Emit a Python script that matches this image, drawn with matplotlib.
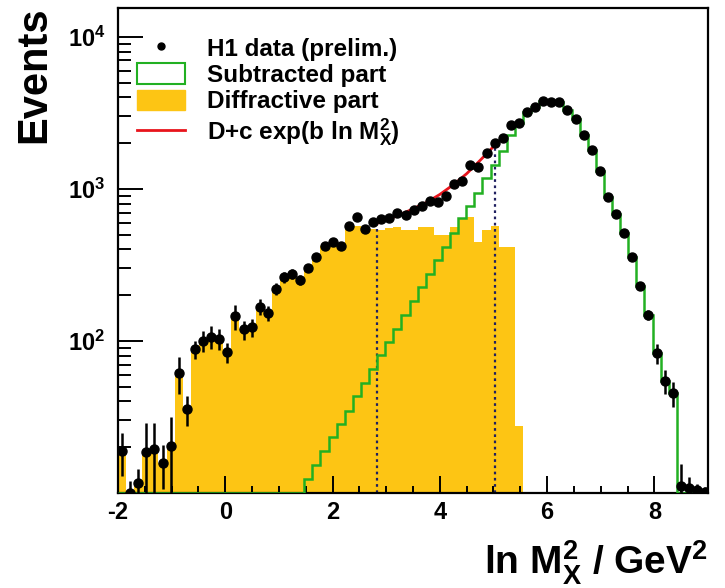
import numpy as np
import matplotlib
matplotlib.use('Agg')
import matplotlib.pyplot as plt
from matplotlib.lines import Line2D
from matplotlib.patches import Patch
from matplotlib.ticker import FixedLocator, LogLocator, MultipleLocator, NullFormatter

# =========================================================
# FONTS
# =========================================================
plt.rcParams['font.family'] = ['Liberation Sans', 'DejaVu Sans']
plt.rcParams['font.weight'] = 'bold'
plt.rcParams['mathtext.fontset'] = 'custom'
plt.rcParams['mathtext.rm'] = 'Liberation Sans:bold'
plt.rcParams['mathtext.it'] = 'Liberation Sans:bold'
plt.rcParams['mathtext.bf'] = 'Liberation Sans:bold'
plt.rcParams['mathtext.default'] = 'rm'

# =========================================================
# DATA
# =========================================================
x_first_edge = -2.0
bin_width = 0.151

# H1 data (prelim.), one value per bin
data_counts = [
    19, 10, 11.7, 18.7, 19.5, 15.7, 20.5, 62, 35.6, 88,
    100, 107, 103.5, 84.6, 145, 119, 123, 168, 153, 220,
    263, 277, 253, 302, 359, 422, 449, 422, 571, 657,
    543, 609, 631, 641, 691, 675, 727, 771, 836, 824,
    897, 1086, 1130, 1431, 1396, 1722, 2003, 2173, 2615, 2709,
    3196, 3446, 3772, 3755, 3755, 3313, 2893, 2249, 1814, 1314,
    888, 681, 512, 359, 229, 149, 83, 54.7, 45.4, 11.1,
    10.8, 10.4, 10.2,
]
data_errors = [
    6, 2, 2.6, 10, 9.5, 5, 11, 17, 8, 12,
    16, 18, 16, 13, 27, 17, 17, 20, 17, 20,
    21, 22, 20, 18, 21, 25, 27, 25, 34, 39,
    33, 36, 25, 26, 28, 27, 29, 31, 33, 33,
    36, 43, 45, 57, 56, 69, 50, 54, 65, 68,
    80, 86, 94, 94, 94, 83, 72, 56, 45, 33,
    27, 24, 20, 16, 12, 12, 12, 10, 8.6, 4.5,
    2, 1, 0.8,
]

# Subtracted part (green open histogram)
subtracted = [
    0, 0, 0, 0, 0, 0, 0, 0, 0, 0,
    0, 0, 0, 0, 0, 0, 0, 0, 0, 0,
    0, 0, 0, 12.4, 15.3, 19.0, 23.3, 28.4, 34.7, 43.2,
    53.3, 65.2, 80.5, 98.5, 120, 149, 182, 226, 277, 342,
    418, 512, 641, 771, 942, 1172, 1431, 1780, 2250, 2709,
    3196, 3446, 3772, 3755, 3755, 3313, 2893, 2249, 1814, 1314,
    888, 681, 512, 359, 229, 149, 83, 54.7, 45.4, 0,
    0, 0, 0,
]

# Diffractive part (filled yellow histogram)
diffractive = [
    19, 0, 11.7, 18.7, 19.5, 15.7, 20.5, 62, 35.6, 88,
    100, 107, 103.5, 84.6, 145, 119, 123, 168, 153, 220,
    263, 277, 253, 302, 359, 422, 449, 422, 571, 571,
    543, 543, 537, 551, 565, 537, 537, 560, 560, 499,
    499, 565, 641, 657, 451, 537, 571, 418, 418, 27.7,
    0, 0, 0, 0, 0, 0, 0, 0, 0, 0,
    0, 0, 0, 0, 0, 0, 0, 0, 0, 0,
    0, 0, 0,
]

# Fit D+c exp(b ln M_X^2)
fit_x = [2.82, 3.0, 3.25, 3.5, 3.75, 4.0, 4.25, 4.5, 4.75, 5.02]
fit_y = [592, 625, 675, 740, 815, 920, 1065, 1260, 1540, 1930]

# Dotted lines marking the fit range
cut_x = [2.82, 5.02]
cut_top = [592, 1930]

y_min, y_max = 10, 15500
x_min, x_max = -2, 9

y_major = [1e2, 1e3, 1e4]
y_major_labels = [r'$10^{2}$', r'$10^{3}$', r'$10^{4}$']
x_major = [-2, 0, 2, 4, 6, 8]

YELLOW = '#FDC514'
GREEN = '#22B022'
RED = '#E8141C'
NAVY = '#202060'

# =========================================================
# BINNING
# =========================================================
n_bins = len(data_counts)
edges = x_first_edge + bin_width * np.arange(n_bins + 1)
centers = 0.5 * (edges[:-1] + edges[1:])

data_counts = np.array(data_counts, dtype=float)
data_errors = np.array(data_errors, dtype=float)
subtracted = np.array(subtracted, dtype=float)
diffractive = np.array(diffractive, dtype=float)

# =========================================================
# FIGURE
# =========================================================
fig = plt.figure(figsize=(7.25, 5.88), dpi=100)
ax = fig.add_axes([118 / 725, 1 - 493 / 588, 590 / 725, 485 / 588])
ax.set_yscale('log')

# diffractive part
ax.stairs(np.where(diffractive > 0, diffractive, 1.0), edges, baseline=1.0,
          fill=True, color=YELLOW, lw=0, zorder=1)

# fit range lines
for cx, ct in zip(cut_x, cut_top):
    ax.plot([cx, cx], [y_min, ct], color=NAVY, lw=1.6, ls=(0, (1.2, 1.6)), zorder=2)

# subtracted part
ax.stairs(np.clip(subtracted, y_min, None), edges, baseline=y_min,
          color=GREEN, lw=1.8, zorder=3)

# fit
ax.plot(fit_x, fit_y, color=RED, lw=2.0, zorder=4)

# data
ax.errorbar(centers, data_counts, yerr=data_errors, fmt='o', color='black',
            markersize=6.5, elinewidth=1.8, capsize=0, zorder=5)

ax.set_xlim(x_min, x_max)
ax.set_ylim(y_min, y_max)

# =========================================================
# AXES
# =========================================================
ax.xaxis.set_major_locator(FixedLocator(x_major))
ax.xaxis.set_minor_locator(MultipleLocator(0.5))
ax.set_xticklabels([str(v) for v in x_major])

ax.yaxis.set_major_locator(FixedLocator(y_major))
ax.set_yticklabels(y_major_labels)
ax.yaxis.set_minor_locator(LogLocator(base=10, subs=np.arange(2, 10)))
ax.yaxis.set_minor_formatter(NullFormatter())

ax.tick_params(axis='x', which='major', direction='in', length=12, width=1.4,
               labelsize=17, pad=6, top=False)
ax.tick_params(axis='x', which='minor', direction='in', length=5, width=1.4, top=False)
ax.tick_params(axis='y', which='major', direction='in', length=18, width=1.4,
               labelsize=17, pad=9, right=False)
ax.tick_params(axis='y', which='minor', direction='in', length=9, width=1.4, right=False)

for sp in ax.spines.values():
    sp.set_linewidth(1.6)

fig.text(34 / 725, 0.99, 'Events', rotation=90, ha='center', va='top',
         fontsize=30, fontweight='bold')
fig.text(708 / 725, 1 - 574 / 588, r'ln M$_{X}^{2}$ / GeV$^{2}$', ha='right',
         va='baseline', fontsize=28, fontweight='bold')

# =========================================================
# LEGEND
# =========================================================
handles = [
    Line2D([], [], marker='o', color='black', ls='none', markersize=5),
    Patch(facecolor='white', edgecolor=GREEN, lw=1.5),
    Patch(facecolor=YELLOW, edgecolor=YELLOW),
    Line2D([], [], color=RED, lw=2.0),
]
labels = [
    'H1 data (prelim.)',
    'Subtracted part',
    'Diffractive part',
    r'D+c exp(b ln M$_{X}^{2}$)',
]
ax.legend(handles, labels, loc='upper left', bbox_to_anchor=(0.032, 0.94),
          frameon=False, fontsize=17.5, borderpad=0, borderaxespad=0,
          handlelength=2.0, handleheight=0.9, handletextpad=0.9,
          labelspacing=0.12)

fig.savefig('out.png', dpi=100)
